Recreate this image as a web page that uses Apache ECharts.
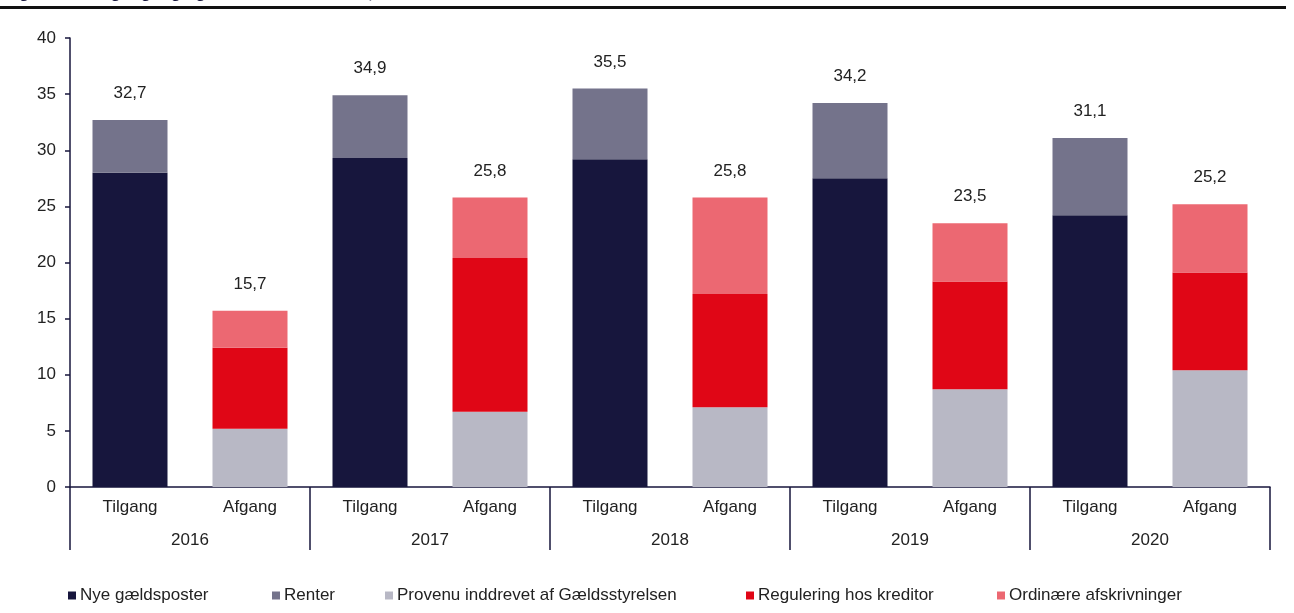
<!DOCTYPE html>
<html>
<head>
<meta charset="utf-8">
<script src="https://cdn.jsdelivr.net/npm/echarts@6/dist/echarts.min.js"></script>
<style>
  html, body { margin: 0; padding: 0; background: #fff; }
  #chart { width: 1294px; height: 613px; }
</style>
</head>
<body>
<div id="chart"></div>
<script>
  // kategorier
  var years = ['2016', '2017', '2018', '2019', '2020'];
  var kinds = ['Tilgang', 'Afgang', 'Tilgang', 'Afgang', 'Tilgang', 'Afgang', 'Tilgang', 'Afgang', 'Tilgang', 'Afgang'];
  var yTicks = [0, 40, 5];

  // mia. kr.
  var nye = [28.0, '-', 29.3, '-', 29.2, '-', 27.5, '-', 24.2, '-'];
  var renter = [4.7, '-', 5.6, '-', 6.3, '-', 6.7, '-', 6.9, '-'];
  var provenu = ['-', 5.2, '-', 6.7, '-', 7.1, '-', 8.7, '-', 10.4];
  var regulering = ['-', 7.2, '-', 13.7, '-', 10.1, '-', 9.6, '-', 8.7];
  var ordinaere = ['-', 3.3, '-', 5.4, '-', 8.6, '-', 5.2, '-', 6.1];
  var totals = [32.7, 15.7, 34.9, 25.8, 35.5, 25.8, 34.2, 23.5, 31.1, 25.2];

  var names = ['Nye gældsposter', 'Renter', 'Provenu inddrevet af Gældsstyrelsen', 'Regulering hos kreditor', 'Ordinære afskrivninger'];
  var colors = ['#17163d', '#74738b', '#b8b8c5', '#e00616', '#ec6872'];
  var legendLeft = [68, 272, 385, 746, 997];

  var navy = '#17163d';
  var font = 'Liberation Sans';

  var totalLabel = {
    show: true,
    position: 'top',
    distance: 18,
    color: '#222',
    fontSize: 17,
    fontFamily: font,
    formatter: function (p) {
      return totals[p.dataIndex].toFixed(1).replace('.', ',');
    }
  };

  var seriesData = [nye, renter, provenu, regulering, ordinaere];
  var series = seriesData.map(function (d, i) {
    var s = {
      name: names[i],
      type: 'bar',
      stack: 'a',
      barWidth: 75,
      data: d,
      itemStyle: { color: colors[i] }
    };
    if (i === 1 || i === 4) s.label = totalLabel;
    return s;
  });

  var legends = names.map(function (n, i) {
    return {
      data: [n],
      left: legendLeft[i],
      top: 587,
      padding: 0,
      itemWidth: 8,
      itemHeight: 8,
      itemGap: 0,
      icon: 'rect',
      textStyle: { fontSize: 17, color: '#222', fontFamily: font, padding: [0, 0, 0, -1] }
    };
  });

  var myChart = echarts.init(document.getElementById('chart'));
  myChart.setOption({
    animation: false,
    legend: legends,
    grid: { left: 70, right: 24, top: 38, bottom: 126 },
    graphic: [
      {
        type: 'text',
        left: 4,
        top: -15,
        style: {
          text: 'Figur 3. Til- og afgang i gælden fra 2016-2020, mia. kr.',
          font: 'bold 17px ' + font,
          fill: navy
        }
      },
      {
        type: 'rect',
        shape: { x: 0, y: 6, width: 1286, height: 3 },
        style: { fill: '#111' }
      }
    ],
    xAxis: [
      {
        type: 'category',
        data: kinds,
        axisLine: { lineStyle: { color: navy, width: 1.5 } },
        axisTick: { show: false },
        axisLabel: { margin: 12, fontSize: 17, color: '#222', fontFamily: font }
      },
      {
        type: 'category',
        data: years,
        position: 'bottom',
        axisLine: { show: false },
        axisTick: { show: true, length: 63, lineStyle: { color: navy, width: 1.5 } },
        axisLabel: { margin: 45, fontSize: 17, color: '#222', fontFamily: font }
      }
    ],
    yAxis: {
      type: 'value',
      min: yTicks[0],
      max: yTicks[1],
      interval: yTicks[2],
      splitLine: { show: false },
      axisLine: { show: true, lineStyle: { color: navy, width: 1.5 } },
      axisTick: { show: true, length: 5, lineStyle: { color: navy, width: 1.5 } },
      axisLabel: { margin: 14, fontSize: 17, color: '#222', fontFamily: font }
    },
    series: series
  });
</script>
</body>
</html>
